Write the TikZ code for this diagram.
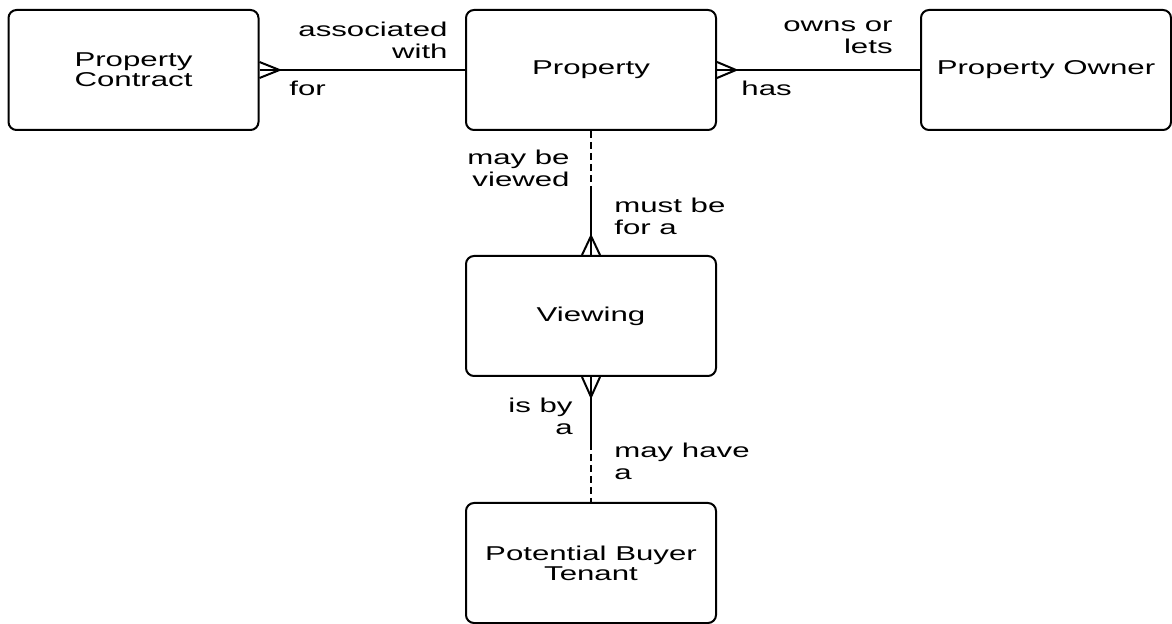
\documentclass[tikz,border=0pt]{standalone}
\usepackage{fontspec}
\newfontfamily\erfont{Liberation Sans}[FakeStretch=1.56]
\usetikzlibrary{calc}
\tikzset{
  entity/.style={draw, rounded corners=4pt, line width=1pt, minimum width=125pt,
    minimum height=60pt, inner sep=0pt, align=center,
    font=\erfont\fontsize{10}{10}\selectfont},
  rel/.style={line width=1pt},
  optional/.style={rel, dash pattern=on 3.5pt off 2pt},
  lbl/.style={inner sep=0pt, font=\erfont\fontsize{10}{11}\selectfont,
    execute at begin node=\strut},
  lblr/.style={lbl, align=right, anchor=north east},
  lbll/.style={lbl, align=left, anchor=north west},
}
\begin{document}
\begin{tikzpicture}[x=0.5pt, y=-0.5pt]
\useasboundingbox (0,0) rectangle (1172,624);

\node[entity] (contract) at (133.5,70) {Property\\Contract};
\node[entity] (property) at (591,70) {Property};
\node[entity] (owner) at (1046,70) {Property Owner};
\node[entity] (viewing) at (591,316) {Viewing};
\node[entity] (buyer) at (591,563) {Potential Buyer\\Tenant};

% contract -- property
\draw[rel] (contract.east) -- (property.west);
\draw[rel] ($(contract.east)+(0,-8)$) -- ($(contract.east)+(20,0)$) -- ($(contract.east)+(0,8)$);

% property -- owner
\draw[rel] (property.east) -- (owner.west);
\draw[rel] ($(property.east)+(0,-8)$) -- ($(property.east)+(19,0)$) -- ($(property.east)+(0,8)$);

% property -- viewing
\coordinate (pvmid) at (591,192);
\draw[optional] (property.south) -- (pvmid);
\draw[rel] (pvmid) -- (viewing.north);
\draw[rel] ($(viewing.north)+(-9,0)$) -- ($(viewing.north)+(0,-19)$) -- ($(viewing.north)+(9,0)$);

% viewing -- buyer
\coordinate (vbmid) at (591,443);
\draw[rel] (viewing.south) -- (vbmid);
\draw[optional] (vbmid) -- (buyer.north);
\draw[rel] ($(viewing.south)+(-9,0)$) -- ($(viewing.south)+(0,20)$) -- ($(viewing.south)+(9,0)$);

\node[lblr] (assoc) at (448,22) {associated\\with};
\node[lbll] (for) at (289,80) {for};
\node[lblr] (owns) at (893,20) {owns or\\lets};
\node[lbll] (has) at (741,80) {has};
\node[lblr] (viewed) at (570,150) {may be\\viewed};
\node[lbll] (mustbe) at (614,198) {must be\\for a};
\node[lblr] (isby) at (573,398) {is by\\a};
\node[lbll] (mayhave) at (614,443) {may have\\a};
\end{tikzpicture}
\end{document}
